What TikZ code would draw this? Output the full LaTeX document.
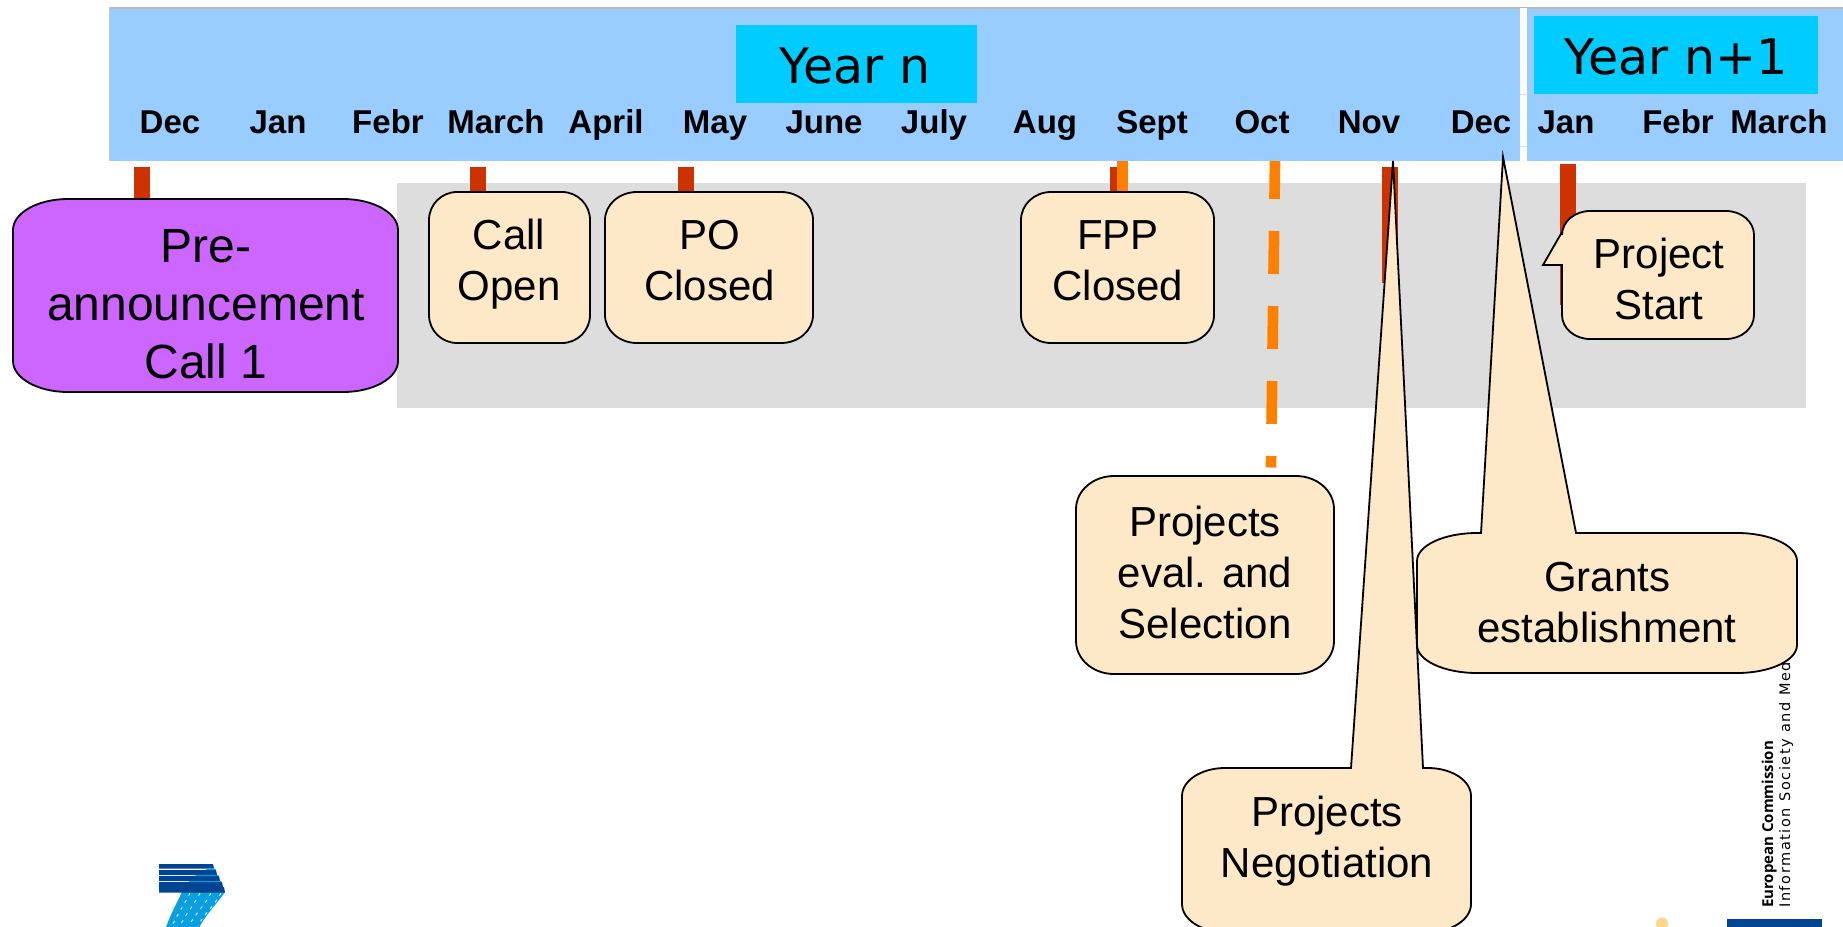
\documentclass[tikz,border=0pt]{standalone}
\usepackage{fontspec}
\setmainfont{Liberation Sans}
\newfontfamily\yearfont{DejaVu Sans}
\newfontfamily\ecfont{Open Sans}
\definecolor{bandblue}{HTML}{99CCFF}
\definecolor{yearcyan}{HTML}{00CCFF}
\definecolor{bandgray}{HTML}{DDDDDD}
\definecolor{tickred}{HTML}{CC3300}
\definecolor{dashorange}{HTML}{FF8000}
\definecolor{callfill}{HTML}{FDE8C8}
\definecolor{callpurple}{HTML}{CC66FF}
\definecolor{fpdark}{HTML}{004494}
\definecolor{fplight}{HTML}{0A9FE0}
\definecolor{dotorange}{HTML}{FFD58A}
\tikzset{
  monthlabel/.style={anchor=base,inner sep=0pt,font=\bfseries\fontsize{33}{36}\selectfont},
  yearlabel/.style={anchor=base,inner sep=0pt,font=\yearfont\fontsize{49}{52}\selectfont},
  calltext/.style={anchor=center,inner sep=0pt,align=center,font=\fontsize{42}{51}\selectfont},
  bigtext/.style={anchor=center,inner sep=0pt,align=center,font=\fontsize{48}{58}\selectfont},
  callshape/.style={draw=black,line width=1.8pt,fill=callfill,line join=miter},
  purpleshape/.style={draw=black,line width=1.8pt,fill=callpurple},
  tick/.style={fill=tickred},
}
% x1 y1 x2 y2 rx ry style top-seg left-seg
\newcommand\rrbox[9]{%
  \pgfmathsetmacro\kx{0.4477*#5}\pgfmathsetmacro\ky{0.4477*#6}%
  \pgfmathsetmacro\xa{#1+#5}\pgfmathsetmacro\xb{#3-#5}%
  \pgfmathsetmacro\ya{#2+#6}\pgfmathsetmacro\yb{#4-#6}%
  \path[#7] (\xa,#2) #8 -- (\xb,#2)
    .. controls ({\xb+#5-\kx},#2) and (#3,{\ya-#6+\ky}) .. (#3,\ya)
    -- (#3,\yb)
    .. controls (#3,{\yb+#6-\ky}) and ({\xb+#5-\kx},#4) .. (\xb,#4)
    -- (\xa,#4)
    .. controls ({\xa-#5+\kx},#4) and (#1,{\yb+#6-\ky}) .. (#1,\yb)
    #9 -- (#1,\ya)
    .. controls (#1,{\ya-#6+\ky}) and ({\xa-#5+\kx},#2) .. (\xa,#2) -- cycle;
}
\begin{document}
\begin{tikzpicture}[x=1pt,y=-1pt]
\useasboundingbox (0,0) rectangle (1843,926);
\begin{scope}
\clip (0,0) rectangle (1843,926);
% header band
\fill[gray!55] (109,7) rectangle (1843,9);
\fill[gray!45] (108.5,7) rectangle (110,161);
\fill[bandblue] (110,9) rectangle (1843,161);
\fill[white] (1519.5,8) rectangle (1526.5,161);
\fill[gray!30] (1519.5,93.5) rectangle (1526.5,95);
\fill[gray!30] (1519.5,145.5) rectangle (1526.5,147);
\fill[yearcyan] (736,25) rectangle (977,103);
\fill[yearcyan] (1534,16) rectangle (1818,94);
\node[yearlabel] (yearn) at (855,83.5) {Year n};
\node[yearlabel] (yearnn) at (1676,74) {Year n+1};
\node[monthlabel] (m1) at (170,133) {Dec};
\node[monthlabel] (m2) at (278,133) {Jan};
\node[monthlabel] (m3) at (388,133) {Febr};
\node[monthlabel] (m4) at (496,133) {March};
\node[monthlabel] (m5) at (606,133) {April};
\node[monthlabel] (m6) at (715,133) {May};
\node[monthlabel] (m7) at (824,133) {June};
\node[monthlabel] (m8) at (934,133) {July};
\node[monthlabel] (m9) at (1045,133) {Aug};
\node[monthlabel] (m10) at (1152,133) {Sept};
\node[monthlabel] (m11) at (1262,133) {Oct};
\node[monthlabel] (m12) at (1369,133) {Nov};
\node[monthlabel] (m13) at (1481,133) {Dec};
\node[monthlabel] (m14) at (1566,133) {Jan};
\node[monthlabel] (m15) at (1678,133) {Febr};
\node[monthlabel] (m16) at (1779,133) {March};
% gray band
\fill[bandgray] (397,183) rectangle (1806,408);
% red ticks
\fill[tick] (133.5,167) rectangle (149.5,200);
\fill[tick] (470,167) rectangle (486,193);
\fill[tick] (678,167) rectangle (694,193);
\fill[tick] (1110,167) rectangle (1122,193);
\fill[tick] (1382,167) rectangle (1398,283);
\fill[tick] (1560,164) rectangle (1576,305);
% orange
\fill[dashorange] (1117,161) rectangle (1128,202);
\coordinate (dashtop) at (1275,161);
\coordinate (dashend) at (1271,467.5);
\draw[dashorange,line width=10.7pt,dash pattern=on 43pt off 32pt,dash phase=5pt] (dashtop) -- (dashend);
% EC text and logo parts
\fill[fpdark] (1727,919) rectangle (1822,930);
\fill[dotorange] (1662,923.5) circle (6);
\node[rotate=90,anchor=base west,inner sep=0pt,font=\ecfont\bfseries\fontsize{15}{16}\selectfont] (ec) at (1773,908) {European Commission};
\node[rotate=90,anchor=base west,inner sep=0pt,font=\yearfont\fontsize{14.5}{16}\selectfont] (infso) at (1790,908) {\addfontfeatures{LetterSpace=11}Information Society and Media};
% FP7 logo
\fill[fplight] (182,892) -- (225,892) .. controls (216,905) and (205,915) .. (198,930) -- (165,930) .. controls (170,915) and (176,905) .. (182,892) -- cycle;
\foreach \a/\b in {190/172,200/180,211/189,221/198}
  \draw[white,line width=0.8pt,dash pattern=on 3pt off 5pt] (\a,893) .. controls (\a-6,905) and (\b+5,915) .. (\b,926);
\fill[fpdark] (159,864) -- (213,864) -- (214,868.5) -- (159,868.5) -- cycle;
\fill[fpdark] (159,870) -- (216,870) -- (217,875) -- (159,875) -- cycle;
\fill[fpdark] (159,876) -- (219,876) -- (220,881) -- (159,881) -- cycle;
\fill[fpdark] (159,882) -- (222,882) -- (223,887) -- (159,887) -- cycle;
\fill[fpdark] (159,887) -- (224,887) -- (225,892.5) -- (159,892.5) -- cycle;
\fill[fplight] (208,868.5) -- (215,868.5) -- (216,870) -- (205,870) -- cycle;
\fill[fplight] (197,875) -- (218,875) -- (219,876) -- (194,876) -- cycle;
\fill[fplight] (190,881) -- (221,881) -- (222,882) -- (188,882) -- cycle;
% callouts
\rrbox{13}{199}{398}{392}{55}{31}{purpleshape}{}{}
\node[bigtext] (pre) at (206,304.5) {Pre-\\announcement\\Call 1};
\rrbox{429}{192}{590}{343}{28}{28}{callshape}{}{}
\node[calltext] (callopen) at (509,264) {Call\\Open};
\rrbox{605}{192}{813}{343}{32}{28}{callshape}{}{}
\node[calltext] (poclosed) at (709.5,261) {PO\\Closed};
\rrbox{1021}{192}{1214}{343}{30}{28}{callshape}{}{}
\node[calltext] (fpp) at (1118,261) {FPP\\Closed};
\rrbox{1562}{211}{1754}{339}{28}{24}{callshape}{}{-- (1562,265) -- (1543,265) -- (1562,232)}
\node[calltext] (start) at (1659,279) {Project\\Start};
\rrbox{1076}{476}{1334}{674}{38}{33}{callshape}{}{}
\node[calltext] (eval) at (1205,572) {Projects\\eval. and\\Selection};
\rrbox{1182}{768}{1471}{932}{43}{28}{callshape}{-- (1351,768) -- (1393,161) -- (1423,768)}{}
\node[calltext] (nego) at (1327,841) {Projects\\Negotiation};
\rrbox{1417}{533}{1797}{673}{60}{28}{callshape}{-- (1481,533) -- (1503,157) -- (1576,533)}{}
\node[calltext] (grants) at (1607,603) {Grants\\establishment};
\end{scope}
\end{tikzpicture}
\end{document}
